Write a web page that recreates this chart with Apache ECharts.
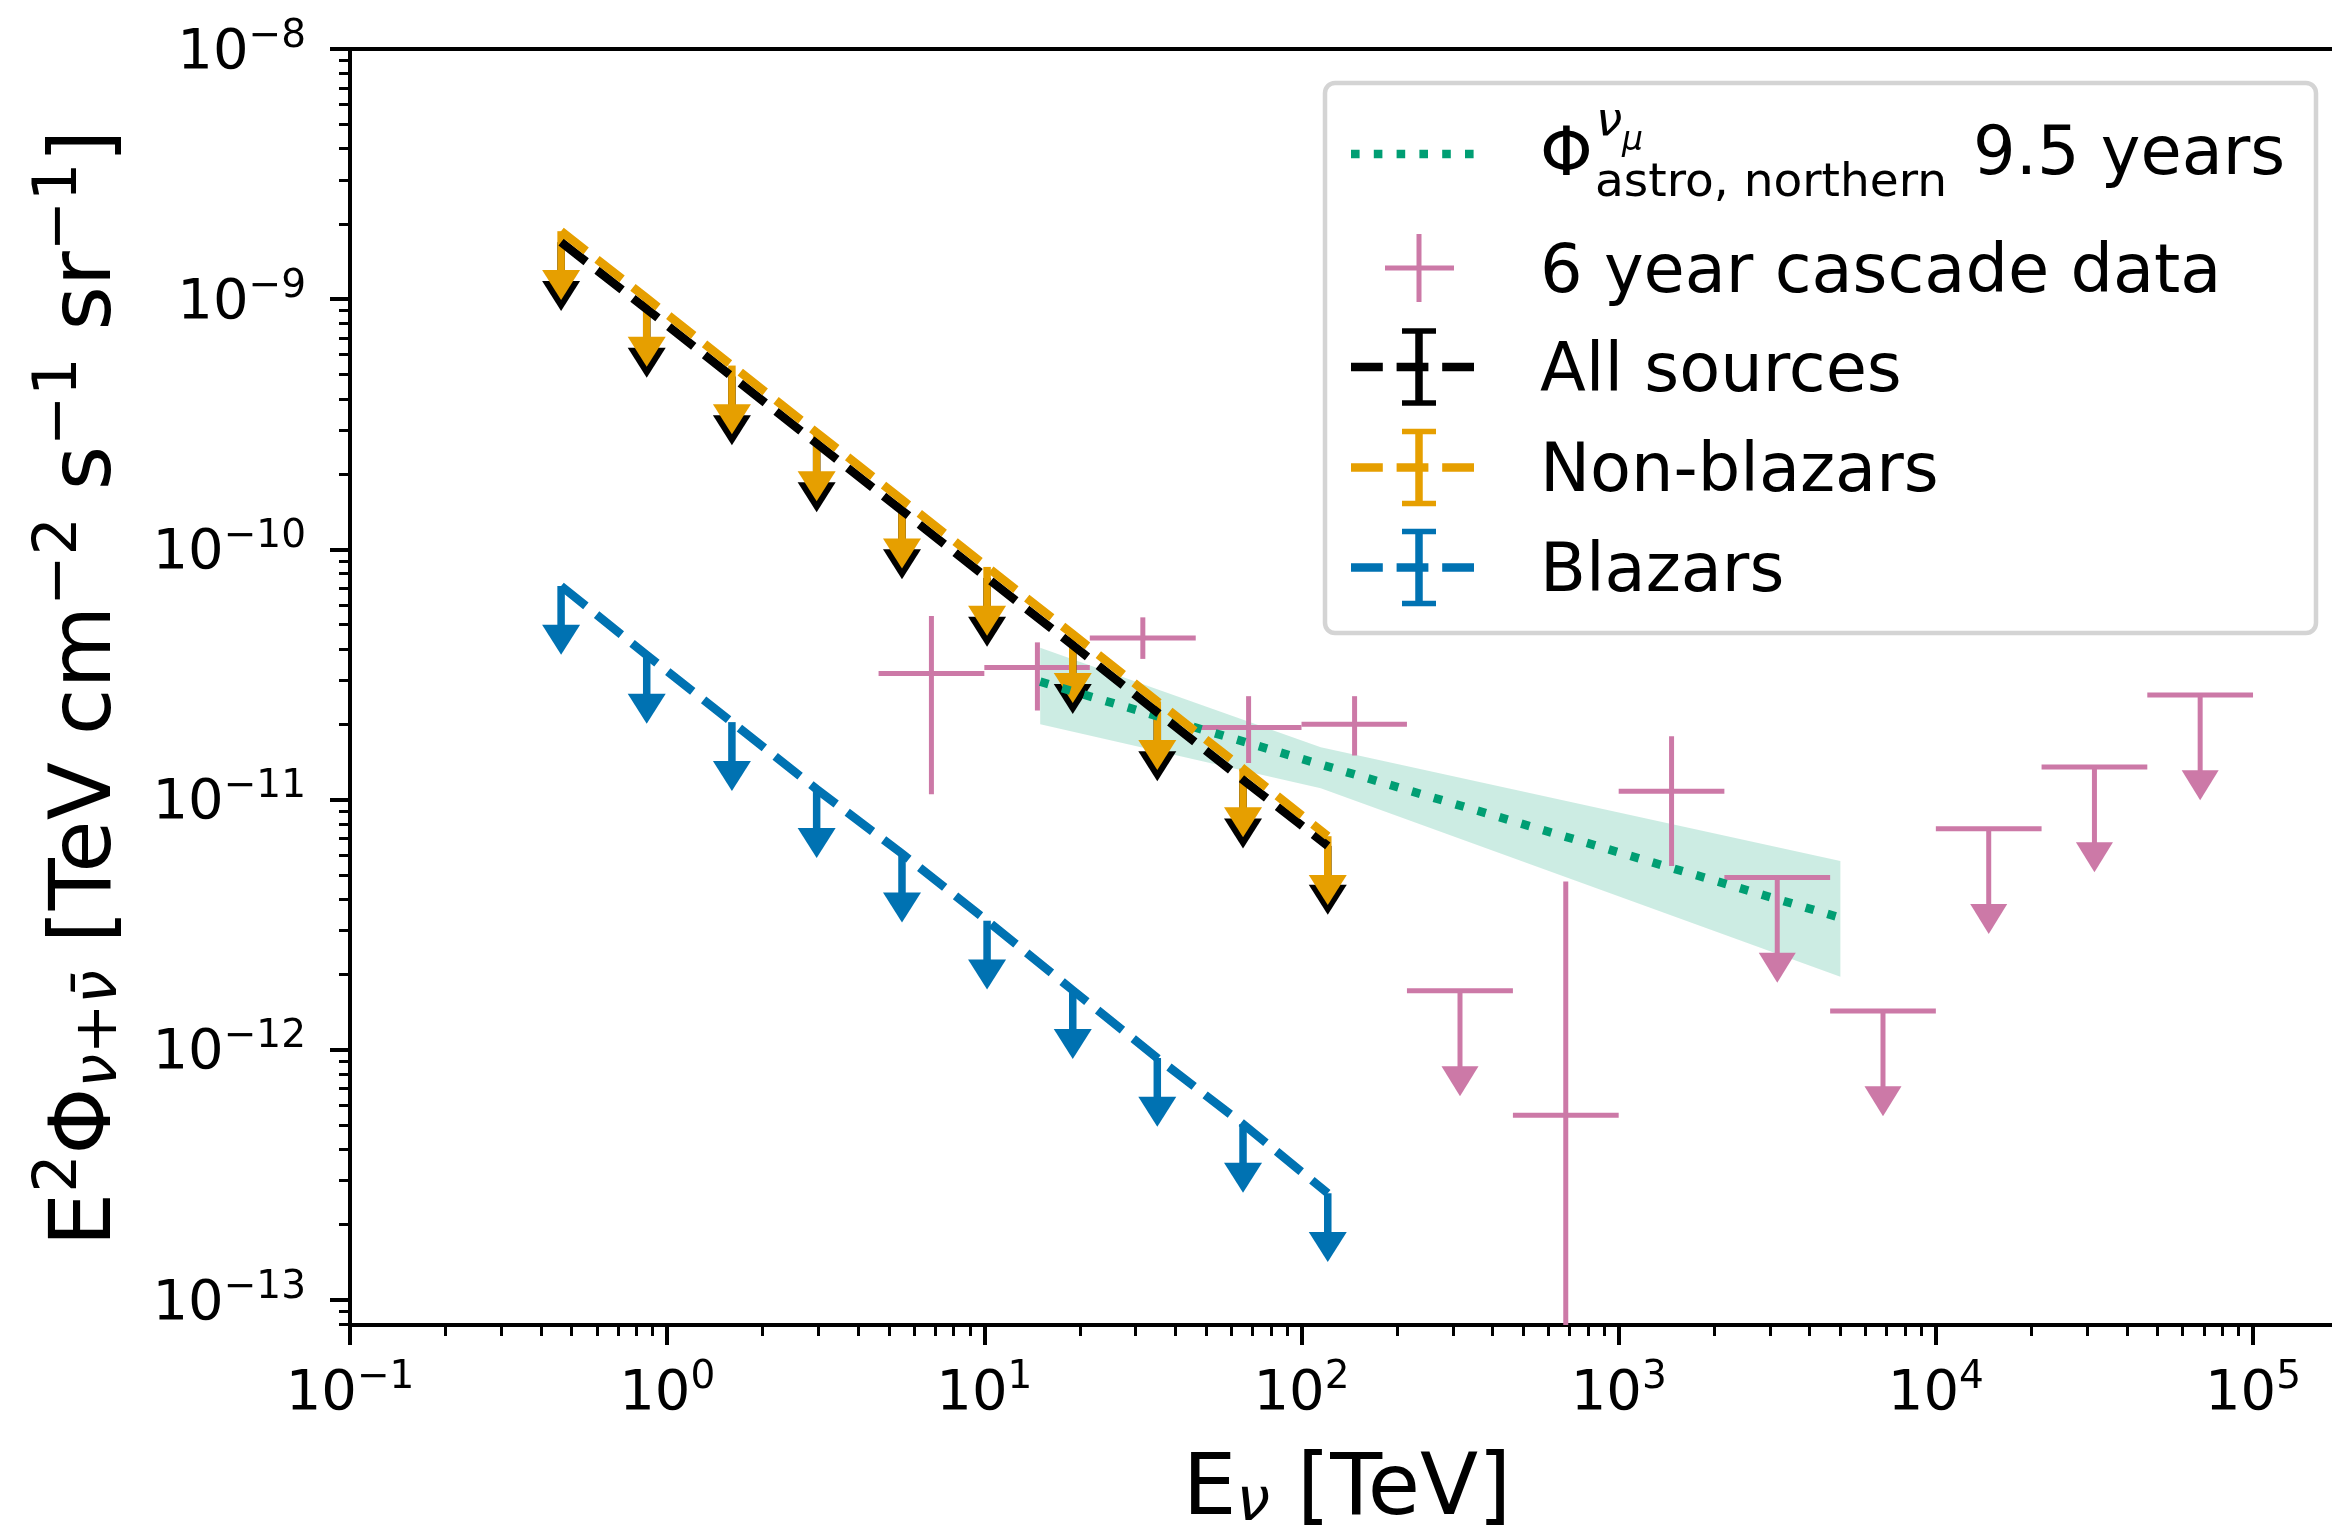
<!DOCTYPE html>
<html><head><meta charset="utf-8">
<script src="https://cdn.jsdelivr.net/npm/echarts@6/dist/echarts.min.js"></script>
<style>html,body{margin:0;padding:0;background:#fff}#c{width:2332px;height:1527px}</style>
</head><body><div id="c"></div>
<script>
// ---------------- data ----------------
const xTickExponents = [-1, 0, 1, 2, 3, 4, 5];
const yTickExponents = [-13, -12, -11, -10, -9, -8];

// stacking upper limits (energy bins, TeV)
const srcEnergy    = [0.463, 0.862, 1.60, 2.96, 5.50, 10.2, 19.0, 35.1, 65.4, 121];
const allSourcesUL = [1.69e-9, 9.13e-10, 4.91e-10, 2.65e-10, 1.43e-10, 7.69e-11, 4.14e-11, 2.23e-11, 1.20e-11, 6.53e-12];
const nonBlazarsUL = [1.87e-9, 1.01e-9, 5.43e-10, 2.93e-10, 1.58e-10, 8.51e-11, 4.58e-11, 2.47e-11, 1.33e-11, 7.14e-12];
const blazarsUL    = [7.14e-11, 3.78e-11, 2.04e-11, 1.10e-11, 6.08e-12, 3.28e-12, 1.73e-12, 9.27e-13, 5.05e-13, 2.67e-13];
const srcULerrFrac = 0.3;      // yerr = 0.3 * value for the limit arrows

// 6 year cascade data
const cascadeE      = [6.81, 14.7, 31.6, 68.1, 147, 316, 681, 1468, 3162, 6813, 14678, 31623, 68129];
const cascadeElo    = [4.64, 10, 21.5, 46.4, 100, 215, 464, 1000, 2154, 4642, 10000, 21544, 46416];
const cascadeEhi    = [10, 21.5, 46.4, 100, 215, 464, 1000, 2154, 4642, 10000, 21544, 46416, 100000];
const cascadeFlux   = [3.19e-11, 3.37e-11, 4.42e-11, 1.94e-11, 2.00e-11, 1.72e-12, 5.48e-13, 1.08e-11, 4.88e-12, 1.43e-12, 7.65e-12, 1.35e-11, 2.62e-11];
const cascadeFluxHi = [5.42e-11, 4.25e-11, 5.35e-11, 2.59e-11, 2.59e-11, null, 4.71e-12, 1.79e-11, null, null, null, null, null];
const cascadeFluxLo = [1.05e-11, 2.27e-11, 3.65e-11, 1.40e-11, 1.50e-11, null, 0, 5.43e-12, null, null, null, null, null];
const cascadeIsUL   = [false, false, false, false, false, true, false, false, true, true, true, true, true];
const cascadeULerrFrac = 0.5;

// 9.5 year northern tracks astrophysical flux
const astroE    = [15, 5000];
const astroFlux = [2.96e-11, 3.37e-12];
const bandE     = [15, 115, 5000];
const bandHi    = [4.04e-11, 1.62e-11, 5.68e-12];
const bandLo    = [2.00e-11, 1.11e-11, 1.96e-12];

// ---------------- styling ----------------
const FONT = 'DejaVu Sans';
const BLACK = '#000000', ORANGE = '#E69F00', BLUE = '#0072B2', GREEN = '#009E73', PINK = '#CC79A7';
const X_MIN = -1, X_MAX = 5.249, Y_MIN = -13.1, Y_MAX = -8;
const LW = 8.6, DASH = [31.8, 13.8], DOT = [8.6, 14.2];

const lg = Math.log10;
const pts = (E, F) => E.map((e, i) => [lg(e), lg(F[i])]);

function minorLogTicks(lo, hi) {
  const out = [];
  for (let n = Math.floor(lo) - 1; n <= Math.ceil(hi); n++)
    for (let k = 2; k <= 9; k++) { const v = n + lg(k); if (v >= lo && v <= hi) out.push(v); }
  return out;
}
const supTxt = e => (e < 0 ? '\u2212' + (-e) : '' + e);
const tickRich = {
  b: { fontFamily: FONT, fontSize: 56, lineHeight: 64, verticalAlign: 'bottom', color: '#000' },
  s: { fontFamily: FONT, fontSize: 39, lineHeight: 33, verticalAlign: 'top', color: '#000' }
};
const tickFmt = v => '{b|10}{s|' + supTxt(Math.round(v)) + '}';

function dashedLine(E, F, color) {
  return { type: 'line', data: pts(E, F), symbol: 'none', showSymbol: false, silent: true, z: 2,
    lineStyle: { color, width: LW, type: DASH, cap: 'butt', join: 'miter' } };
}
function ulSeries(E, F, color, frac, headW, headH, shaftW) {
  return { type: 'custom', silent: true, z: 2, data: pts(E, F), encode: { x: 0, y: 1 },
    renderItem: (params, api) => {
      const x = api.value(0), y = api.value(1);
      const top = api.coord([x, y]);
      const base = api.coord([x, y + lg(1 - frac)]);
      return { type: 'group', children: [
        { type: 'line', shape: { x1: top[0], y1: top[1], x2: base[0], y2: base[1] + 2 }, style: { stroke: color, lineWidth: shaftW } },
        { type: 'polygon', shape: { points: [[base[0] - headW / 2, base[1]], [base[0] + headW / 2, base[1]], [base[0], base[1] + headH]] }, style: { fill: color } }
      ] };
    } };
}

const bandSeries = {
  type: 'custom', silent: true, z: 1,
  data: bandE.map((e, i) => [lg(e), lg(bandHi[i]), lg(bandLo[i])]),
  encode: { x: 0, y: 1 },
  renderItem: (params, api) => {
    if (params.dataIndex !== 0) return null;
    const up = bandE.map((e, i) => api.coord([lg(e), lg(bandHi[i])]));
    const lo = bandE.map((e, i) => api.coord([lg(e), lg(bandLo[i])])).reverse();
    return { type: 'polygon', shape: { points: up.concat(lo) }, style: { fill: 'rgba(0,158,115,0.2)' } };
  }
};

const cascadeSeries = {
  type: 'custom', silent: true, z: 2,
  data: cascadeE.map((e, i) => [lg(e), lg(cascadeFlux[i]), lg(cascadeElo[i]), lg(cascadeEhi[i]),
    cascadeIsUL[i] ? lg(cascadeFlux[i]) : lg(cascadeFluxHi[i]),
    cascadeIsUL[i] ? lg(cascadeFlux[i]) : (cascadeFluxLo[i] > 0 ? lg(cascadeFluxLo[i]) : Y_MIN - 1),
    cascadeIsUL[i] ? 1 : 0]),
  encode: { x: 0, y: 1 },
  renderItem: (params, api) => {
    const cs = params.coordSys;
    const clampY = v => Math.max(cs.y, Math.min(cs.y + cs.height, v));
    const x = api.value(0), y = api.value(1);
    const l = api.coord([api.value(2), y]), r = api.coord([api.value(3), y]);
    const c = api.coord([x, y]);
    const ch = [{ type: 'line', shape: { x1: l[0], y1: l[1], x2: r[0], y2: r[1] }, style: { stroke: PINK, lineWidth: 5 } }];
    if (api.value(6) === 1) {
      const base = api.coord([x, y + lg(1 - cascadeULerrFrac)]);
      ch.push({ type: 'line', shape: { x1: c[0], y1: c[1], x2: base[0], y2: base[1] + 2 }, style: { stroke: PINK, lineWidth: 5 } });
      ch.push({ type: 'polygon', shape: { points: [[base[0] - 18.5, base[1]], [base[0] + 18.5, base[1]], [base[0], base[1] + 30]] }, style: { fill: PINK } });
    } else {
      const t = api.coord([x, api.value(4)]), b = api.coord([x, api.value(5)]);
      ch.push({ type: 'line', shape: { x1: t[0], y1: clampY(t[1]), x2: b[0], y2: clampY(b[1]) }, style: { stroke: PINK, lineWidth: 5 } });
    }
    return { type: 'group', children: ch };
  }
};

const astroSeries = { type: 'line', data: pts(astroE, astroFlux), symbol: 'none', showSymbol: false, silent: true, z: 2,
  lineStyle: { color: GREEN, width: LW, type: DOT, cap: 'butt' } };

// ---------------- axes ----------------
const xAxes = [
  { type: 'value', min: X_MIN, max: X_MAX, position: 'bottom',
    axisLine: { show: true, onZero: false, lineStyle: { color: '#000', width: 4 } },
    axisTick: { show: true, inside: false, length: 20, lineStyle: { color: '#000', width: 4 }, customValues: xTickExponents },
    axisLabel: { show: true, customValues: xTickExponents, margin: 33, formatter: tickFmt, rich: tickRich },
    splitLine: { show: false } },
  { type: 'value', min: X_MIN, max: X_MAX, position: 'bottom',
    axisLine: { show: false, onZero: false },
    axisTick: { show: true, inside: false, length: 11, lineStyle: { color: '#000', width: 3 }, customValues: minorLogTicks(X_MIN, X_MAX) },
    axisLabel: { show: false }, splitLine: { show: false } },
  { type: 'value', min: X_MIN, max: X_MAX, position: 'top',
    axisLine: { show: true, onZero: false, lineStyle: { color: '#000', width: 4 } },
    axisTick: { show: false }, axisLabel: { show: false }, splitLine: { show: false } }
];
const yAxes = [
  { type: 'value', min: Y_MIN, max: Y_MAX, position: 'left',
    axisLine: { show: true, onZero: false, lineStyle: { color: '#000', width: 4 } },
    axisTick: { show: true, inside: false, length: 20, lineStyle: { color: '#000', width: 4 }, customValues: yTickExponents },
    axisLabel: { show: true, customValues: yTickExponents, margin: 44, formatter: tickFmt, rich: tickRich },
    splitLine: { show: false } },
  { type: 'value', min: Y_MIN, max: Y_MAX, position: 'left',
    axisLine: { show: false, onZero: false },
    axisTick: { show: true, inside: false, length: 11, lineStyle: { color: '#000', width: 3 }, customValues: minorLogTicks(Y_MIN, Y_MAX) },
    axisLabel: { show: false }, splitLine: { show: false } }
];

// ---------------- titles & legend (graphic) ----------------
const titleRich = {
  b:  { fontFamily: FONT, fontSize: 85, lineHeight: 100, verticalAlign: 'bottom', fill: '#000' },
  sp: { fontFamily: FONT, fontSize: 60, lineHeight: 52, verticalAlign: 'top', fill: '#000' },
  si: { fontFamily: FONT, fontSize: 60, fontStyle: 'italic', lineHeight: 56, verticalAlign: 'bottom', fill: '#000' },
  sb: { fontFamily: FONT, fontSize: 60, lineHeight: 56, verticalAlign: 'bottom', fill: '#000' }
};
const yTitle = '{b|E}{sp|2}{b|\u03A6}{si|\u03BD}{sb|+}{si|\u03BD\u0304}{b| [TeV cm}{sp|\u22122}{b| s}{sp|\u22121}{b| sr}{sp|\u22121}{b|]}';
const xTitle = '{b|E}{si|\u03BD}{b| [TeV]}';

const LX0 = 1351, LX1 = 1487, LXC = 1419, LTX = 1540, DY = 5;
function txt(x, y, text, size, italic) {
  return { type: 'text', x, y: y + DY, z: 101, silent: true,
    style: { text, fontFamily: FONT, fontSize: size, fontStyle: italic ? 'italic' : 'normal', fill: '#000', align: 'left', verticalAlign: 'middle' } };
}
function lineEl(x1, y1, x2, y2, color, w, dash) {
  const st = { stroke: color, lineWidth: w, lineCap: 'butt' };
  if (dash) st.lineDash = dash;
  return { type: 'line', z: 101, silent: true, shape: { x1, y1, x2, y2 }, style: st };
}
function ebHandle(y, color) {
  return [
    lineEl(LX0, y, LX1, y, color, LW, DASH),
    lineEl(LXC, y - 36, LXC, y + 36, color, 7.5),
    lineEl(LXC - 17, y - 36, LXC + 17, y - 36, color, 5.5),
    lineEl(LXC - 17, y + 36, LXC + 17, y + 36, color, 5.5)
  ];
}
const graphics = [
  { type: 'text', x: 80.6, y: 688, rotation: Math.PI / 2, z: 101, silent: true,
    style: { text: yTitle, rich: titleRich, align: 'center', verticalAlign: 'middle' } },
  { type: 'text', x: 1347, y: 1484.6, z: 101, silent: true,
    style: { text: xTitle, rich: titleRich, align: 'center', verticalAlign: 'middle' } },
  { type: 'rect', z: 100, silent: true, shape: { x: 1325, y: 83, width: 991, height: 550, r: 10 },
    style: { fill: 'rgba(255,255,255,0.8)', stroke: '#d4d4d4', lineWidth: 4.5 } },
  lineEl(LX0, 154, LX1, 154, GREEN, LW, DOT),
  lineEl(1385, 268, 1454, 268, PINK, 5),
  lineEl(LXC, 234, LXC, 302, PINK, 5),
  ...ebHandle(367, BLACK),
  ...ebHandle(467.5, ORANGE),
  ...ebHandle(567.5, BLUE),
  txt(LTX, 152.8, '\u03A6', 67),
  txt(1596, 117.7, '\u03BD', 47, true),
  txt(1622, 136.6, '\u03BC', 33, true),
  txt(1595, 178.7, 'astro, northern', 47),
  txt(1973, 151.8, '9.5 years', 67),
  txt(LTX, 269.3, '6 year cascade data', 67),
  txt(LTX, 368.6, 'All sources', 67),
  txt(LTX, 468.2, 'Non-blazars', 67),
  txt(LTX, 568.2, 'Blazars', 67)
];

const option = {
  animation: false,
  backgroundColor: '#ffffff',
  grid: { left: 350, top: 49, right: 0, bottom: 202, containLabel: false },
  xAxis: xAxes,
  yAxis: yAxes,
  series: [
    bandSeries,
    cascadeSeries,
    astroSeries,
    dashedLine(srcEnergy, allSourcesUL, BLACK),
    ulSeries(srcEnergy, allSourcesUL, BLACK, srcULerrFrac, 38, 30, 7.5),
    dashedLine(srcEnergy, nonBlazarsUL, ORANGE),
    ulSeries(srcEnergy, nonBlazarsUL, ORANGE, srcULerrFrac, 38, 30, 7.5),
    dashedLine(srcEnergy, blazarsUL, BLUE),
    ulSeries(srcEnergy, blazarsUL, BLUE, srcULerrFrac, 38, 30, 7.5)
  ],
  graphic: { elements: graphics }
};
const chart = echarts.init(document.getElementById('c'), null, { width: 2332, height: 1527, renderer: 'canvas' });
chart.setOption(option);
</script></body></html>
